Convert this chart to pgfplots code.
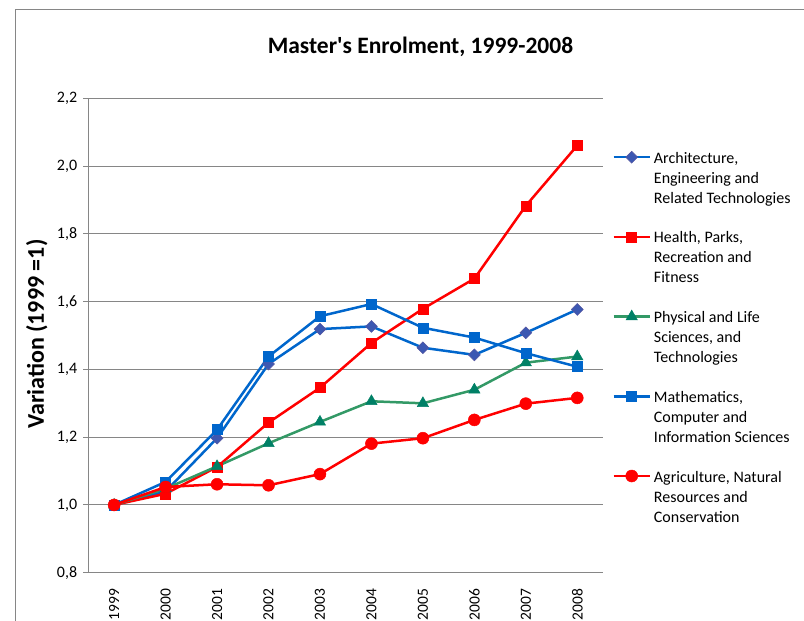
\documentclass[border=0pt]{standalone}
\usepackage{pgfplots}
\pgfplotsset{compat=1.18}
\usepackage{fontspec}
\setmainfont{Carlito}
\definecolor{mblue}{RGB}{0,102,204}
\definecolor{dfill}{RGB}{60,88,178}
\definecolor{ddraw}{RGB}{85,85,160}
\definecolor{mred}{RGB}{255,0,0}
\definecolor{mgreen}{RGB}{51,153,102}
\definecolor{tfill}{RGB}{0,128,102}
\definecolor{gridgray}{RGB}{134,134,134}
\newcommand{\lgent}[3]{\vtop{\hbox{\strut #1}\hbox{\strut #2}\hbox{\strut #3}}}
\begin{document}
\begin{tikzpicture}[x=1pt,y=1pt]
\useasboundingbox (0,0) rectangle (804,621);
\draw[gridgray, line width=1pt] (15,-5) -- (15,611) -- (820,611);
\begin{axis}[
  at={(88.4pt,48.3pt)}, anchor=south west,
  scale only axis, width=514.6pt, height=474.3pt,
  xmin=1998.5, xmax=2008.5, ymin=0.8, ymax=2.2,
  xtick={1999,2000,2001,2002,2003,2004,2005,2006,2007,2008},
  ytick={0.8,1.0,1.2,1.4,1.6,1.8,2.0,2.2},
  axis x line=bottom, axis y line=left,
  axis line style={-, gridgray, line width=1pt},
  ymajorgrids, grid style={gridgray, line width=1pt},
  x tick style={draw=none},
  y tick style={gridgray, line width=1pt},
  tick align=outside, major tick length=5pt,
  /pgf/number format/assume math mode=true,
  xticklabel style={rotate=90, anchor=east, inner sep=0pt,
    font=\fontsize{15.5}{19}\selectfont,
    /pgf/number format/1000 sep={}},
  xticklabel shift=11pt,
  yticklabel style={inner sep=0pt, font=\fontsize{16}{19}\selectfont,
    /pgf/number format/.cd, fixed, fixed zerofill, precision=1, use comma},
  yticklabel shift=6pt,
  title={Master\textquotesingle s Enrolment, 1999-2008},
  title style={at={(0.6454,1.0815)}, anchor=base, inner sep=0pt,
    font=\bfseries\fontsize{23.5}{28}\selectfont},
  ylabel={Variation (1999 =1)},
  ylabel style={at={(-0.1005,0.503)}, anchor=center, inner sep=0pt,
    font=\bfseries\fontsize{24}{28}\selectfont},
  legend style={at={(1.018,0.8933)}, anchor=north west, draw=none, fill=none,
    inner sep=0pt, row sep=19.7pt,
    nodes={inner sep=0pt, anchor=base west, text height=14pt, text depth=46pt,
      font=\fontsize{16}{20}\selectfont},
    /tikz/every odd column/.append style={column sep=3pt}},
  legend image code/.code={\draw[mark repeat=2,mark phase=2] plot coordinates {(0pt,6pt) (18pt,6pt) (36pt,6pt)};},
  every axis plot/.append style={line width=2.5pt},
]
\addplot[mblue, mark=square*, mark size=4.2pt,
  mark options={solid, rotate=45, fill=dfill, draw=ddraw, line width=0.5pt}]
  coordinates {(1999,1.00) (2000,1.04) (2001,1.197) (2002,1.416) (2003,1.519) (2004,1.527) (2005,1.464) (2006,1.443) (2007,1.508) (2008,1.577)};
\addlegendentry{\lgent{Architecture,}{Engineering and}{Related Technologies}}
\addplot[mred, mark=square*, mark size=5pt,
  mark options={solid, fill=mred, draw=mred, line width=0.5pt}]
  coordinates {(1999,1.00) (2000,1.033) (2001,1.112) (2002,1.243) (2003,1.346) (2004,1.478) (2005,1.579) (2006,1.668) (2007,1.883) (2008,2.061)};
\addlegendentry{\lgent{Health, Parks,}{Recreation and}{Fitness}}
\addplot[mgreen, mark=triangle*, mark size=6.5pt,
  mark options={solid, fill=tfill, draw=tfill, line width=0.5pt}]
  coordinates {(1999,1.00) (2000,1.048) (2001,1.114) (2002,1.182) (2003,1.245) (2004,1.306) (2005,1.300) (2006,1.340) (2007,1.420) (2008,1.438)};
\addlegendentry{\lgent{Physical and Life}{Sciences, and}{Technologies}}
\addplot[mblue, mark=square*, mark size=5pt,
  mark options={solid, fill=mblue, draw=mblue, line width=0.5pt}]
  coordinates {(1999,1.00) (2000,1.068) (2001,1.222) (2002,1.438) (2003,1.557) (2004,1.593) (2005,1.523) (2006,1.494) (2007,1.448) (2008,1.408)};
\addlegendentry{\lgent{Mathematics,}{Computer and}{Information Sciences}}
\addplot[mred, mark=*, mark size=6pt,
  mark options={solid, fill=mred, draw=mred, line width=0.5pt}]
  coordinates {(1999,1.00) (2000,1.053) (2001,1.061) (2002,1.058) (2003,1.091) (2004,1.181) (2005,1.197) (2006,1.251) (2007,1.299) (2008,1.316)};
\addlegendentry{\lgent{Agriculture, Natural}{Resources and}{Conservation}}
\end{axis}
\end{tikzpicture}
\end{document}
